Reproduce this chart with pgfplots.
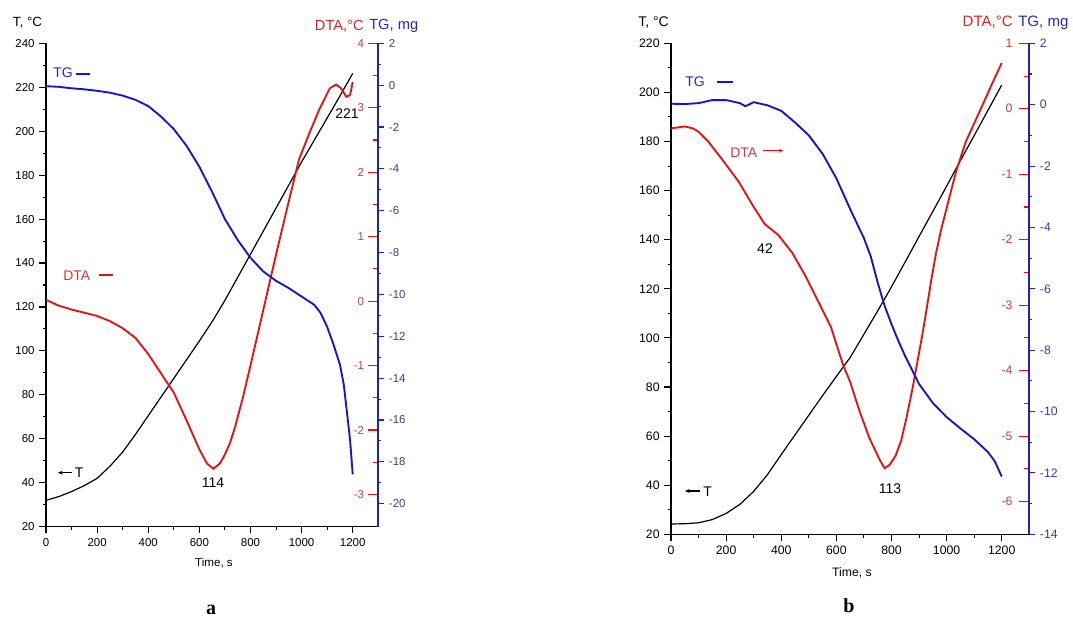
\documentclass[border=0pt]{standalone}
\usepackage{pgfplots}
\pgfplotsset{compat=1.18}
\usetikzlibrary{arrows.meta}
\usepackage{fontspec}
\setmainfont{Liberation Sans}
\newfontfamily\serifb{Liberation Serif}

\definecolor{tgblue}{RGB}{20,20,200}
\definecolor{dtared}{RGB}{225,20,20}
\definecolor{axblue}{RGB}{35,35,165}
\definecolor{labred}{RGB}{200,60,60}
\definecolor{labblue}{RGB}{60,60,150}
\definecolor{titred}{RGB}{205,40,40}
\definecolor{titblue}{RGB}{40,40,180}

\def\u{0.75pt}

\pgfplotsset{
  base/.style={scale only axis, anchor=south west, xmin=0, xmax=1300,
    /pgf/number format/assume math mode=true, /pgf/number format/1000 sep={},
    axis line style={-}},
  taxis/.style={base, axis x line*=bottom, axis y line*=left, tick align=outside,
    xtick={0,200,...,1200}, minor x tick num=1, minor y tick num=1,
    major tick length=5pt, minor tick length=2.5pt,
    axis line style={line width=0.9pt, -}, tick style={line width=0.8pt, black}},
  dtaaxis/.style={base, axis x line=none, axis y line*=right, tick align=inside,
    minor y tick num=1, major tick length=7.5pt, minor tick length=3.75pt,
    y axis line style={draw=none}, tick style={line width=0.8pt, dtared},
    yticklabel style={anchor=east, text=labred}},
  tgaxis/.style={base, axis x line=none, axis y line*=right, tick align=outside,
    minor y tick num=1, major tick length=4.5pt, minor tick length=2.3pt,
    axis line style={axblue, line width=1.4pt, -}, tick style={line width=0.8pt, axblue},
    yticklabel style={text=labblue}},
}

\begin{document}
\begin{tikzpicture}
\useasboundingbox (0,0) rectangle (1073*\u,619*\u);

% ---------------- panel a ----------------
\begin{axis}[taxis, width=249.2pt, height=362.55pt, at={(46*\u,92.3*\u)},
  ymin=20, ymax=240, ytick={20,40,...,240},
  tick label style={font=\fontsize{8.6}{10}\selectfont}]
\addplot[black, line width=0.9pt] coordinates {
(0,32) (50,33.7) (100,36) (150,38.7) (200,42) (250,47.5) (300,54) (350,62)
(400,70.5) (450,79) (500,87.5) (550,96) (600,104.5) (650,113.3) (700,123)
(750,133.5) (800,144) (850,154.5) (900,165) (950,175.5) (1000,186) (1050,196)
(1100,206) (1150,216) (1200,226.3)};
\end{axis}
\begin{axis}[dtaaxis, width=249.2pt, height=362.55pt, at={(46*\u,92.3*\u)},
  ymin=-3.5, ymax=4, ytick={-3,...,4},
  yticklabel style={xshift=-7.1pt},
  tick label style={font=\fontsize{8.6}{10}\selectfont}]
\addplot[dtared, line width=1.4pt] coordinates {
(0,0.02) (50,-0.07) (100,-0.13) (150,-0.18) (200,-0.23) (250,-0.31) (300,-0.42)
(350,-0.57) (400,-0.82) (450,-1.12) (500,-1.42) (550,-1.85) (600,-2.3) (630,-2.52)
(655,-2.6) (680,-2.52) (700,-2.38) (720,-2.2) (740,-1.95) (770,-1.5) (800,-1.0)
(850,-0.14) (900,0.72) (950,1.55) (990,2.2) (1030,2.6) (1070,2.98) (1110,3.3)
(1135,3.36) (1155,3.3) (1175,3.17) (1190,3.2) (1200,3.4)};
\end{axis}
\begin{axis}[tgaxis, width=249.2pt, height=362.55pt, at={(46*\u,92.3*\u)},
  ymin=-21.1, ymax=2, ytick={-20,-18,...,2},
  tick label style={font=\fontsize{8.6}{10}\selectfont}]
\addplot[tgblue, line width=1.4pt] coordinates {
(0,-0.05) (50,-0.08) (100,-0.15) (150,-0.2) (200,-0.27) (250,-0.36) (300,-0.5)
(350,-0.7) (400,-1.0) (450,-1.5) (500,-2.1) (550,-2.9) (600,-3.9) (650,-5.1)
(700,-6.4) (750,-7.4) (800,-8.25) (850,-8.9) (900,-9.35) (950,-9.7) (1000,-10.1)
(1050,-10.5) (1075,-10.9) (1100,-11.55) (1125,-12.4) (1150,-13.35) (1165,-14.3)
(1180,-15.9) (1190,-17.0) (1200,-18.6)};
\end{axis}

\node[font=\fontsize{10}{12}\selectfont] at (27.5*\u,596.5*\u) {T, °C};
\node[anchor=east, inner sep=0, text=titred, font=\fontsize{11}{13}\selectfont] at (364*\u,593*\u) {DTA,°C};
\node[anchor=west, inner sep=0, text=titblue, font=\fontsize{11}{13}\selectfont] at (369*\u,593*\u) {TG, mg};
\node[anchor=west, inner sep=0, text=titblue, font=\fontsize{10.5}{12}\selectfont] at (53*\u,546*\u) {TG};
\draw[tgblue, line width=1.3pt] (76*\u,545*\u) -- (90*\u,545*\u);
\node[anchor=west, inner sep=0, text=labred, font=\fontsize{10.5}{12}\selectfont] at (63*\u,343*\u) {DTA};
\draw[dtared, line width=1.3pt] (99*\u,344*\u) -- (113*\u,344*\u);
\draw[-{Stealth[length=3.5pt,width=3pt]}, line width=0.9pt] (72*\u,146.3*\u) -- (58*\u,146.3*\u);
\node[anchor=west, inner sep=0, font=\fontsize{10.5}{12}\selectfont] at (74.5*\u,146.8*\u) {T};
\node[font=\fontsize{10.5}{12}\selectfont] at (213*\u,136*\u) {114};
\node[font=\fontsize{10.5}{12}\selectfont] at (347*\u,505*\u) {221};
\node[font=\fontsize{8.7}{10}\selectfont] at (214*\u,56*\u) {Time, s};
\node[font=\serifb\bfseries\fontsize{15}{18}\selectfont] at (211*\u,9*\u) {a};

% ---------------- panel b ----------------
\begin{axis}[taxis, width=268.7pt, height=368.25pt, at={(671*\u,84.7*\u)},
  ymin=20, ymax=220, ytick={20,40,...,220},
  tick label style={font=\fontsize{9.2}{11}\selectfont}]
\addplot[black, line width=0.9pt] coordinates {
(0,24.2) (50,24.3) (100,24.7) (150,26) (200,28.5) (250,32.2) (300,37.5) (350,44.3)
(400,52.5) (450,60.5) (500,68.5) (550,76.5) (600,84.3) (650,92) (700,101.5)
(750,111) (800,120.8) (850,131) (900,141.3) (950,151.5) (1000,161.8) (1050,172.2)
(1100,182.4) (1150,192.7) (1200,203)};
\end{axis}
\begin{axis}[dtaaxis, width=268.7pt, height=368.25pt, at={(671*\u,84.7*\u)},
  ymin=-6.5, ymax=1, ytick={-6,...,1},
  yticklabel style={xshift=-9pt},
  tick label style={font=\fontsize{9.2}{11}\selectfont}]
\addplot[dtared, line width=1.4pt] coordinates {
(0,-0.3) (50,-0.27) (80,-0.3) (100,-0.35) (135,-0.5) (185,-0.77) (245,-1.11)
(300,-1.5) (340,-1.76) (390,-1.93) (440,-2.2) (490,-2.57) (535,-2.95) (580,-3.33)
(625,-3.92) (650,-4.17) (685,-4.63) (720,-5.03) (757,-5.36) (775,-5.49) (793,-5.44)
(815,-5.3) (835,-5.07) (854,-4.73) (875,-4.3) (890,-3.96) (910,-3.5) (926,-3.1)
(945,-2.6) (962,-2.2) (980,-1.85) (1000,-1.52) (1035,-0.95) (1070,-0.5)
(1120,-0.04) (1165,0.38) (1200,0.7)};
\end{axis}
\begin{axis}[tgaxis, width=268.7pt, height=368.25pt, at={(671*\u,84.7*\u)},
  ymin=-14, ymax=2, ytick={-14,-12,...,2},
  tick label style={font=\fontsize{9.2}{11}\selectfont}]
\addplot[tgblue, line width=1.4pt] coordinates {
(0,0.03) (50,0.02) (100,0.05) (150,0.15) (200,0.15) (250,0.05) (270,-0.05)
(300,0.08) (350,-0.02) (400,-0.2) (450,-0.58) (500,-1.0) (550,-1.6) (600,-2.4)
(650,-3.4) (700,-4.35) (725,-4.95) (750,-5.8) (775,-6.55) (800,-7.15) (825,-7.7)
(850,-8.2) (900,-9.1) (950,-9.72) (1000,-10.18) (1050,-10.55) (1100,-10.9)
(1150,-11.32) (1175,-11.62) (1200,-12.12)};
\end{axis}

\node[font=\fontsize{10.5}{12}\selectfont] at (653.5*\u,596.5*\u) {T, °C};
\node[anchor=east, inner sep=0, text=titred, font=\fontsize{11.3}{13}\selectfont] at (1013*\u,596.5*\u) {DTA,°C};
\node[anchor=west, inner sep=0, text=titblue, font=\fontsize{11.3}{13}\selectfont] at (1018*\u,596.5*\u) {TG, mg};
\node[anchor=west, inner sep=0, text=titblue, font=\fontsize{10.5}{12}\selectfont] at (685*\u,537*\u) {TG};
\draw[tgblue, line width=1.3pt] (717*\u,537.3*\u) -- (733*\u,537.3*\u);
\node[anchor=west, inner sep=0, text=labred, font=\fontsize{10.5}{12}\selectfont] at (730*\u,466*\u) {DTA};
\draw[dtared, line width=1.1pt, -{Stealth[length=3pt,width=3pt]}] (763*\u,468.3*\u) -- (783*\u,468.3*\u);
\node[font=\fontsize{10.5}{12}\selectfont] at (765*\u,370*\u) {42};
\draw[-{Stealth[length=3.5pt,width=3pt]}, line width=0.9pt] (700*\u,128*\u) -- (685*\u,128*\u);
\node[anchor=west, inner sep=0, font=\fontsize{10.5}{12}\selectfont] at (703*\u,127.3*\u) {T};
\node[font=\fontsize{10.5}{12}\selectfont] at (890*\u,130*\u) {113};
\node[font=\fontsize{9.2}{11}\selectfont] at (852*\u,46*\u) {Time, s};
\node[font=\serifb\bfseries\fontsize{15}{18}\selectfont] at (849*\u,13*\u) {b};
\end{tikzpicture}
\end{document}
